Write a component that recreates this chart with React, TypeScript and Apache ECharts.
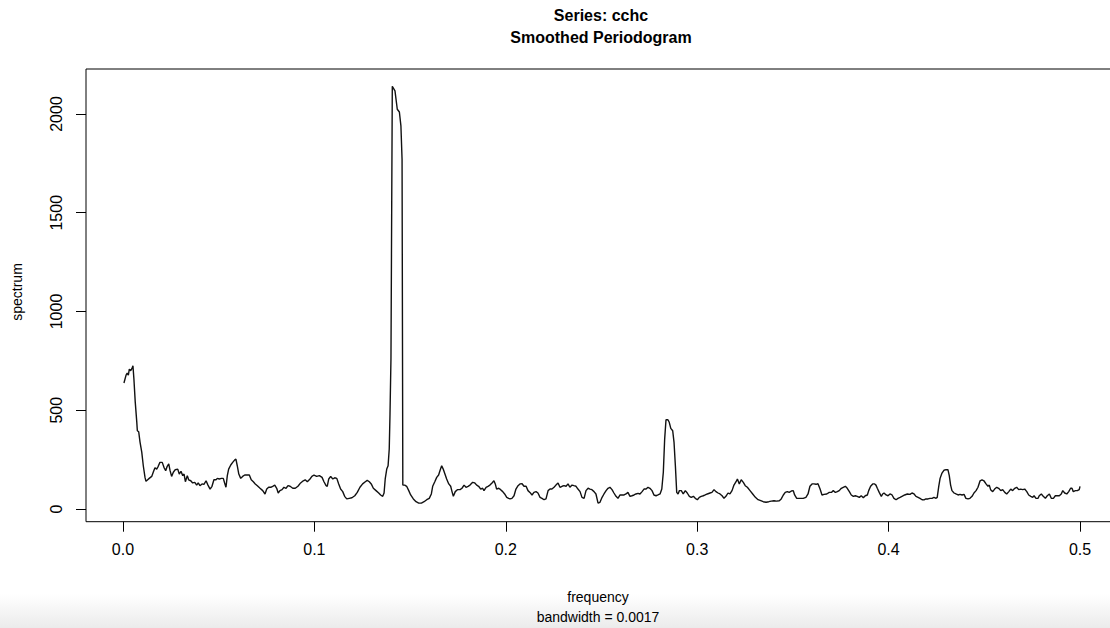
import React, { useEffect, useRef } from "react";
import * as echarts from "echarts";

// Smoothed periodogram of series cchc: [frequency, spectrum]
const seg1: number[][] = [
  [0.0005,638],[0.0016,678],[0.0022,688],[0.0028,678],[0.0033,708],[0.0040,700],[0.0047,712],[0.0052,725],[0.0057,658],[0.0064,541],[0.0072,440],[0.0075,396],[0.0082,391],[0.0089,339],[0.0098,288],[0.0106,219],[0.0115,160],[0.0120,140],[0.0129,148],[0.0137,155],[0.0150,165],[0.0158,186],[0.0167,209],[0.0176,202],[0.0184,216],[0.0193,236],[0.0205,236],[0.0214,211],[0.0223,194],[0.0231,216],[0.0239,228],[0.0246,194],[0.0254,165],[0.0263,186],[0.0273,199],[0.0286,202],[0.0294,177],[0.0303,191],[0.0312,169],[0.0319,177],[0.0326,138],[0.0336,169],[0.0343,148],[0.0354,143],[0.0364,132],[0.0375,135],[0.0385,121],[0.0393,132],[0.0402,118],[0.0413,127],[0.0423,125],[0.0434,143],[0.0444,121],[0.0455,101],[0.0465,115],[0.0475,148],[0.0486,148],[0.0493,155],[0.0503,152],[0.0514,155],[0.0524,155],[0.0531,132],[0.0538,110],[0.0545,169],[0.0552,202],[0.0563,223],[0.0573,236],[0.0584,249],[0.0590,253],[0.0597,219],[0.0605,177],[0.0615,155],[0.0625,165],[0.0636,172],[0.0649,172],[0.0660,172],[0.0670,148],[0.0681,138],[0.0691,127],[0.0702,118],[0.0716,105],[0.0730,93],[0.0742,76],[0.0751,101],[0.0761,110],[0.0772,110],[0.0782,115],[0.0793,121],[0.0803,105],[0.0811,81],[0.0820,93],[0.0831,98],[0.0841,110],[0.0852,105],[0.0862,118],[0.0873,115],[0.0887,105],[0.0900,105],[0.0914,115],[0.0928,132],[0.0942,143],[0.0952,148],[0.0963,138],[0.0977,152],[0.0987,165],[0.0998,172]
];
const seg2: number[][] = [
  [0.1012,165],[0.1026,169],[0.1040,160],[0.1050,138],[0.1061,118],[0.1067,115],[0.1075,152],[0.1085,165],[0.1096,152],[0.1106,158],[0.1117,155],[0.1127,127],[0.1137,101],[0.1148,88],[0.1158,64],[0.1169,51],[0.1182,54],[0.1196,57],[0.1211,67],[0.1224,84],[0.1238,110],[0.1252,127],[0.1266,138],[0.1276,145],[0.1287,138],[0.1297,127],[0.1308,105],[0.1322,93],[0.1336,81],[0.1346,71],[0.1357,64],[0.1364,81],[0.1370,152],[0.1378,202],[0.1385,219],[0.1391,304],[0.1395,480],[0.1400,760],[0.1407,2140],[0.1421,2117],[0.1433,2024],[0.1444,2010],[0.1452,1940],[0.1458,1771],[0.1462,121],[0.1472,121],[0.1482,115],[0.1493,93],[0.1503,71],[0.1517,51],[0.1531,37],[0.1545,30],[0.1559,30],[0.1573,37],[0.1587,47],[0.1600,54],[0.1611,76],[0.1618,115],[0.1629,138],[0.1639,160],[0.1649,172],[0.1656,194],[0.1665,219],[0.1673,202],[0.1682,177],[0.1691,152],[0.1702,127],[0.1712,115],[0.1719,88],[0.1726,64],[0.1736,88],[0.1747,98],[0.1761,98],[0.1771,105],[0.1782,121],[0.1792,110],[0.1803,115],[0.1813,121],[0.1827,135],[0.1838,132],[0.1848,121],[0.1858,115],[0.1869,101],[0.1879,105],[0.1886,93],[0.1897,110],[0.1907,115],[0.1917,121],[0.1928,132],[0.1938,143],[0.1945,127],[0.1952,101],[0.1963,105],[0.1973,98],[0.1984,88],[0.1994,76]
];
const seg3: number[][] = [
  [0.2005,59],[0.2015,54],[0.2022,51],[0.2032,54],[0.2043,67],[0.2053,101],[0.2064,118],[0.2074,127],[0.2085,128],[0.2095,115],[0.2106,115],[0.2116,93],[0.2126,84],[0.2137,71],[0.2147,84],[0.2158,88],[0.2168,81],[0.2179,59],[0.2189,54],[0.2200,47],[0.2210,51],[0.2221,93],[0.2231,101],[0.2241,101],[0.2252,110],[0.2262,121],[0.2273,132],[0.2283,110],[0.2294,115],[0.2304,118],[0.2315,115],[0.2325,127],[0.2335,110],[0.2346,121],[0.2356,118],[0.2367,115],[0.2377,101],[0.2388,88],[0.2398,59],[0.2409,54],[0.2419,93],[0.2430,105],[0.2440,101],[0.2450,98],[0.2461,88],[0.2471,76],[0.2482,30],[0.2492,34],[0.2503,59],[0.2513,76],[0.2524,93],[0.2534,105],[0.2544,110],[0.2555,98],[0.2565,81],[0.2576,64],[0.2586,54],[0.2597,71],[0.2607,71],[0.2618,71],[0.2628,76],[0.2638,84],[0.2649,64],[0.2659,67],[0.2670,71],[0.2680,76],[0.2691,79],[0.2701,76],[0.2712,88],[0.2722,101],[0.2733,101],[0.2743,110],[0.2753,105],[0.2764,93],[0.2774,71],[0.2785,67],[0.2795,71],[0.2806,76],[0.2815,101],[0.2823,186],[0.2830,354],[0.2837,452],[0.2847,452],[0.2854,439],[0.2862,408],[0.2872,396],[0.2879,337],[0.2886,219],[0.2893,84],[0.2900,76],[0.2907,93],[0.2917,93],[0.2927,76],[0.2938,93],[0.2948,81],[0.2959,64],[0.2969,59],[0.2980,64],[0.2990,54]
];
const seg4: number[][] = [
  [0.3001,47],[0.3011,59],[0.3021,64],[0.3032,67],[0.3042,71],[0.3053,76],[0.3067,81],[0.3077,84],[0.3088,98],[0.3098,88],[0.3109,81],[0.3119,76],[0.3130,67],[0.3140,54],[0.3150,64],[0.3161,81],[0.3171,76],[0.3182,93],[0.3192,121],[0.3203,138],[0.3210,152],[0.3220,127],[0.3230,148],[0.3241,135],[0.3251,118],[0.3262,110],[0.3276,93],[0.3290,76],[0.3304,59],[0.3318,47],[0.3332,42],[0.3345,37],[0.3360,34],[0.3374,37],[0.3387,40],[0.3401,42],[0.3415,40],[0.3429,42],[0.3439,51],[0.3450,71],[0.3460,84],[0.3471,88],[0.3481,84],[0.3492,91],[0.3502,93],[0.3509,71],[0.3520,54],[0.3530,54],[0.3541,54],[0.3554,54],[0.3568,59],[0.3579,76],[0.3589,115],[0.3600,127],[0.3610,127],[0.3621,125],[0.3631,128],[0.3642,101],[0.3652,71],[0.3663,74],[0.3677,76],[0.3690,84],[0.3701,84],[0.3711,93],[0.3722,84],[0.3732,88],[0.3742,93],[0.3753,105],[0.3763,110],[0.3774,115],[0.3784,105],[0.3795,88],[0.3805,71],[0.3816,64],[0.3826,67],[0.3836,64],[0.3847,59],[0.3857,67],[0.3868,57],[0.3878,67],[0.3889,71],[0.3896,93],[0.3906,115],[0.3917,127],[0.3927,127],[0.3934,121],[0.3941,105],[0.3951,84],[0.3962,64],[0.3969,76],[0.3976,81],[0.3987,71],[0.3997,67]
];
const seg5: number[][] = [
  [0.4007,76],[0.4018,71],[0.4028,54],[0.4039,47],[0.4049,54],[0.4060,59],[0.4070,64],[0.4084,71],[0.4098,76],[0.4112,74],[0.4122,81],[0.4133,76],[0.4143,64],[0.4154,59],[0.4164,54],[0.4175,47],[0.4185,46],[0.4195,51],[0.4206,51],[0.4216,54],[0.4227,54],[0.4237,59],[0.4248,54],[0.4254,59],[0.4262,115],[0.4269,155],[0.4279,182],[0.4289,196],[0.4300,199],[0.4310,199],[0.4317,169],[0.4324,121],[0.4331,93],[0.4342,81],[0.4352,76],[0.4363,71],[0.4373,74],[0.4384,71],[0.4394,74],[0.4404,54],[0.4415,51],[0.4425,54],[0.4436,64],[0.4446,81],[0.4457,93],[0.4467,110],[0.4478,143],[0.4488,148],[0.4498,143],[0.4509,127],[0.4519,115],[0.4526,121],[0.4533,98],[0.4544,88],[0.4554,101],[0.4565,110],[0.4575,105],[0.4586,93],[0.4596,98],[0.4607,84],[0.4617,76],[0.4628,88],[0.4638,101],[0.4648,93],[0.4659,105],[0.4669,110],[0.4680,98],[0.4690,101],[0.4701,98],[0.4711,101],[0.4722,88],[0.4732,71],[0.4743,64],[0.4753,59],[0.4760,67],[0.4770,54],[0.4781,54],[0.4787,67],[0.4798,76],[0.4808,64],[0.4819,54],[0.4829,67],[0.4840,76],[0.4850,54],[0.4861,54],[0.4871,67],[0.4881,67],[0.4892,67],[0.4902,76],[0.4910,93],[0.4920,81],[0.4931,76],[0.4941,88],[0.4951,105],[0.4958,105],[0.4965,88],[0.4976,93],[0.4986,93],[0.4996,98],[0.5000,115]
];

// Axis ranges (R-style 4% padding around data) and tick values
const xRange = [-0.01933, 0.51933];
const yRange = [-64.3, 2227.8];
const xTickValues = [0, 0.1, 0.2, 0.3, 0.4, 0.5];
const yTickValues = [0, 500, 1000, 1500, 2000];
const titleLines = ["Series: cchc", "Smoothed Periodogram"];
const xTitle = "frequency";
const xSubTitle = "bandwidth = 0.0017";
const yTitle = "spectrum";

const FONT = "'Liberation Sans', Arial, Helvetica, sans-serif";

export default function App() {
  const ref = useRef<HTMLDivElement>(null);
  useEffect(() => {
    if (!ref.current) return;
    const chart = echarts.init(ref.current, undefined, { renderer: "svg" });
    const data = [...seg1, ...seg2, ...seg3, ...seg4, ...seg5];
    chart.setOption({
      animation: false,
      backgroundColor: "#ffffff",
      grid: {
        left: 86,
        top: 69,
        width: 1031,
        height: 452.7,
        containLabel: false,
        show: true,
        borderColor: "#000",
        borderWidth: 1,
        backgroundColor: "transparent",
      },
      xAxis: {
        type: "value",
        min: xRange[0],
        max: xRange[1],
        axisLine: { show: false, onZero: false },
        axisTick: {
          show: true,
          length: 10,
          customValues: xTickValues,
          lineStyle: { color: "#000", width: 1 },
        },
        axisLabel: {
          margin: 20,
          color: "#000",
          fontSize: 16,
          fontFamily: FONT,
          customValues: xTickValues,
          formatter: (v: number) => v.toFixed(1),
        },
        splitLine: { show: false },
      },
      yAxis: {
        type: "value",
        min: yRange[0],
        max: yRange[1],
        axisLine: { show: false, onZero: false },
        axisTick: {
          show: true,
          length: 10,
          customValues: yTickValues,
          lineStyle: { color: "#000", width: 1 },
        },
        axisLabel: {
          margin: 22,
          rotate: 90,
          color: "#000",
          fontSize: 16,
          fontFamily: FONT,
          customValues: yTickValues,
          formatter: (v: number) => String(Math.round(v)),
        },
        splitLine: { show: false },
      },
      series: [
        {
          type: "line",
          data,
          showSymbol: false,
          symbol: "none",
          lineStyle: { color: "#111", width: 1.4 },
        },
      ],
      graphic: [
        {
          type: "rect",
          z: -10,
          shape: { x: 0, y: 594, width: 1130, height: 34 },
          style: {
            fill: new echarts.graphic.LinearGradient(0, 0, 0, 1, [
              { offset: 0, color: "rgba(236,236,236,0)" },
              { offset: 1, color: "#ebebeb" },
            ]),
          },
        },
        {
          type: "text",
          x: 601,
          y: 15,
          style: { text: titleLines[0], font: `bold 16px ${FONT}`, fill: "#000", align: "center", verticalAlign: "middle" },
        },
        {
          type: "text",
          x: 601,
          y: 37,
          style: { text: titleLines[1], font: `bold 16px ${FONT}`, fill: "#000", align: "center", verticalAlign: "middle" },
        },
        {
          type: "text",
          x: 598,
          y: 597,
          style: { text: xTitle, font: `14px ${FONT}`, fill: "#000", align: "center", verticalAlign: "middle" },
        },
        {
          type: "text",
          x: 598,
          y: 617,
          style: { text: xSubTitle, font: `14px ${FONT}`, fill: "#000", align: "center", verticalAlign: "middle" },
        },
        {
          type: "text",
          x: 17,
          y: 292,
          rotation: Math.PI / 2,
          style: { text: yTitle, font: `14px ${FONT}`, fill: "#000", align: "center", verticalAlign: "middle" },
        },
      ],
    });
    return () => chart.dispose();
  }, []);
  return (
    <div style={{ position: "absolute", left: 0, top: 0, width: 1110, height: 628, overflow: "hidden" }}>
      <div ref={ref} style={{ position: "absolute", left: 0, top: 0, width: 1130, height: 628 }} />
    </div>
  );
}
